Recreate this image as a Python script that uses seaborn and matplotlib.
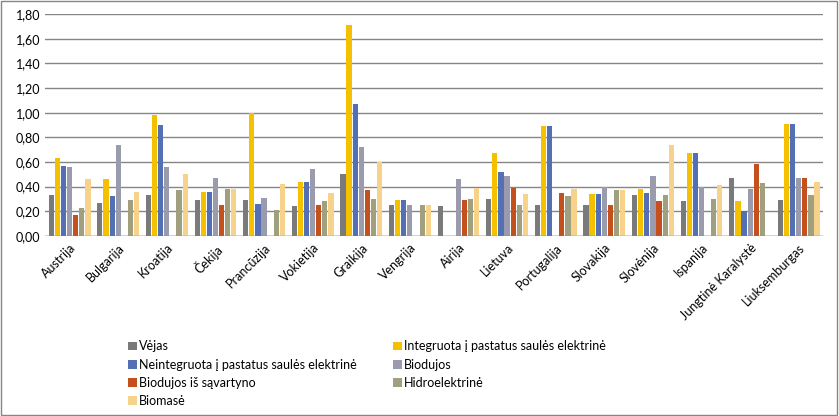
import numpy as np
import pandas as pd
import matplotlib
matplotlib.use('Agg')
import matplotlib.pyplot as plt
import seaborn as sns
from matplotlib.patches import Rectangle
from matplotlib.ticker import FuncFormatter

# Countries and technology series
countries = ['Austrija', 'Bulgarija', 'Kroatija', 'Čekija', 'Prancūzija', 'Vokietija',
             'Graikija', 'Vengrija', 'Airija', 'Lietuva', 'Portugalija', 'Slovakija',
             'Slovėnija', 'Ispanija', 'Jungtinė Karalystė', 'Liuksemburgas']
series = ['Vėjas', 'Integruota į pastatus saulės elektrinė',
          'Neintegruota į pastatus saulės elektrinė', 'Biodujos',
          'Biodujos iš sąvartyno', 'Hidroelektrinė', 'Biomasė']

nan = np.nan
vejas        = [0.33, 0.27, 0.33, 0.29, 0.29, 0.24, 0.50, 0.25, 0.24, 0.30, 0.25, 0.25, 0.33, 0.28, 0.47, 0.29]
integruota   = [0.63, 0.46, 0.98, 0.36, 1.00, 0.44, 1.71, 0.29, nan,  0.67, 0.89, 0.34, 0.38, 0.67, 0.28, 0.91]
neintegruota = [0.57, 0.32, 0.90, 0.36, 0.26, 0.44, 1.07, 0.29, nan,  0.52, 0.89, 0.34, 0.35, 0.67, 0.20, 0.91]
biodujos     = [0.56, 0.74, 0.56, 0.47, 0.31, 0.54, 0.72, 0.25, 0.46, 0.49, nan,  0.40, 0.49, 0.40, 0.38, 0.47]
savartynas   = [0.17, nan,  nan,  0.25, nan,  0.25, 0.37, nan,  0.29, 0.39, 0.35, 0.25, 0.28, nan,  0.58, 0.47]
hidro        = [0.23, 0.29, 0.37, 0.38, 0.21, 0.28, 0.30, 0.25, 0.30, 0.25, 0.32, 0.37, 0.33, 0.30, 0.43, 0.33]
biomase      = [0.46, 0.36, 0.50, 0.38, 0.42, 0.35, 0.60, 0.25, 0.39, 0.34, 0.38, 0.37, 0.74, 0.41, nan,  0.44]

values = [vejas, integruota, neintegruota, biodujos, savartynas, hidro, biomase]
colors = ['#7a7a7a', '#f5c000', '#5470b4', '#9b9bae', '#c4501e', '#a09f80', '#f7d28a']

rows = []
for s, vals in zip(series, values):
    for c, v in zip(countries, vals):
        rows.append({'Šalis': c, 'Serija': s, 'Vertė': v})
df = pd.DataFrame(rows)

plt.rcParams['font.family'] = ['Lato', 'DejaVu Sans']

fig = plt.figure(figsize=(8.39, 4.16), dpi=100)
ax = fig.add_axes([0.054, 0.433, 0.927, 0.533])

sns.barplot(data=df, x='Šalis', y='Vertė', hue='Serija', hue_order=series,
            order=countries, palette=colors, width=0.88, gap=0.15,
            saturation=1, errorbar=None, ax=ax, legend=True)

ax.set_ylim(0, 1.8)
ax.set_yticks(np.arange(0, 1.81, 0.2))
ax.yaxis.set_major_formatter(FuncFormatter(lambda v, p: f'{v:.2f}'.replace('.', ',')))
ax.grid(axis='y', color='#868686', linewidth=1)
ax.set_axisbelow(True)
for sp in ax.spines.values():
    sp.set_visible(False)
ax.axhline(0, color='#868686', linewidth=1)
ax.tick_params(axis='both', length=0, labelsize=9)
ax.tick_params(axis='x', pad=4)
ax.set_xlabel('')
ax.set_ylabel('')
plt.setp(ax.get_xticklabels(), rotation=45, ha='right', rotation_mode='anchor')

# legend fills row by row in the reference
handles, labels = ax.get_legend_handles_labels()
ax.legend_.remove()
order = [0, 2, 4, 6, 1, 3, 5]
fig.legend([handles[i] for i in order], [labels[i] for i in order], ncol=2,
           loc='upper left', bbox_to_anchor=(0.139, 0.209),
           frameon=False, fontsize=9, handlelength=0.7, handleheight=0.7,
           handletextpad=0.2, columnspacing=2.9, labelspacing=0.5)

fig.patches.append(Rectangle((0.001, 0.002), 0.997, 0.996, transform=fig.transFigure,
                             fill=False, edgecolor='#868686', linewidth=1))

fig.savefig('out.png', dpi=100)
